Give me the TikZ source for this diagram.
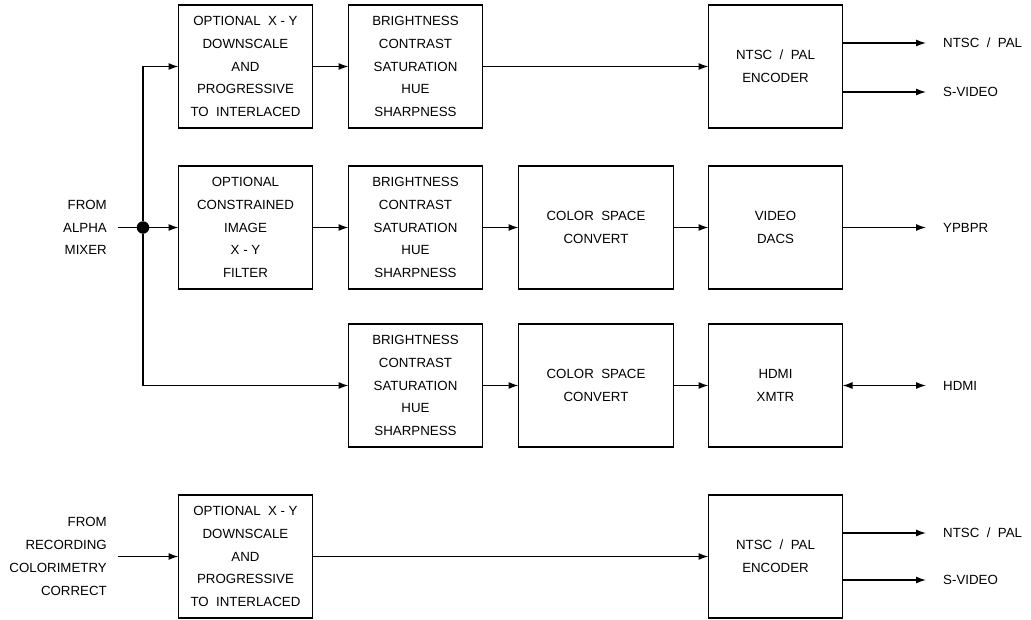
\documentclass[tikz,border=0pt]{standalone}
\usepackage{fontspec}
\setmainfont{Liberation Sans}
\usetikzlibrary{arrows.meta,positioning}

\begin{document}
\begin{tikzpicture}[
    x=1pt, y=-1pt,
    node distance=36pt and 36pt,
    block/.style={draw, line width=1.3pt, align=center, inner sep=0pt, outer sep=0pt, minimum width=134pt, minimum height=123pt, font=\fontsize{13.3}{22.6}\selectfont},
    wideblock/.style={block, minimum width=155pt},
    inlabel/.style={align=right, inner sep=0pt, font=\fontsize{13.3}{22.8}\selectfont},
    outlabel/.style={anchor=west, inner sep=0pt, inner xsep=17pt, text height=9.5pt, text depth=0pt, font=\fontsize{13.3}{16}\selectfont},
    line/.style={-{Latex[length=10pt,width=7pt]}, line width=1.3pt},
    bothline/.style={{Latex[length=10pt,width=7pt]}-{Latex[length=10pt,width=7pt]}, line width=1.3pt},
    wire/.style={line width=1.3pt}
]
\useasboundingbox (0,0) rectangle (1031,619);

\node[block] (down1) at (245.5,66.5) {OPTIONAL\ \ X - Y\\DOWNSCALE\\AND\\PROGRESSIVE\\TO\ \ INTERLACED};
\node[block, right=of down1] (adj1) {BRIGHTNESS\\CONTRAST\\SATURATION\\HUE\\SHARPNESS};
\node[block, below=38pt of down1] (filter) {OPTIONAL\\CONSTRAINED\\IMAGE\\X - Y\\FILTER};
\node[block, right=of filter] (adj2) {BRIGHTNESS\\CONTRAST\\SATURATION\\HUE\\SHARPNESS};
\node[wideblock, right=of adj2] (csc2) {COLOR\ \ SPACE\\CONVERT};
\node[block, right=35pt of csc2] (dacs) {VIDEO\\DACS};
\node[block, above=38pt of dacs] (enc1) {NTSC\ \ /\ \ PAL\\ENCODER};
\node[block, below=35pt of adj2] (adj3) {BRIGHTNESS\\CONTRAST\\SATURATION\\HUE\\SHARPNESS};
\node[wideblock, right=of adj3] (csc3) {COLOR\ \ SPACE\\CONVERT};
\node[block, right=35pt of csc3] (hdmi) {HDMI\\XMTR};
\node[block, below=48pt of hdmi] (enc2) {NTSC\ \ /\ \ PAL\\ENCODER};
\node[block] (down2) at (245.5,556.5) {OPTIONAL\ \ X - Y\\DOWNSCALE\\AND\\PROGRESSIVE\\TO\ \ INTERLACED};

\node[circle, fill, inner sep=0pt, minimum size=12.5pt] (dot) at (143,227.5) {};
\coordinate (alphain) at (118,227.5);
\node[inlabel, left=11pt of alphain] (alpha) {FROM\\ALPHA\\MIXER};
\coordinate (recin) at (118,556.5);
\node[inlabel, left=11pt of recin] (rec) {FROM\\RECORDING\\COLORIMETRY\\CORRECT};

\node[outlabel] (ntsc1) at (926,43) {NTSC\ \ /\ \ PAL};
\node[outlabel] (svid1) at (926,92) {S-VIDEO};
\node[outlabel] (ypbpr) at (926,227.5) {YPBPR};
\node[outlabel] (hdmiout) at (926,385.5) {HDMI};
\node[outlabel] (ntsc2) at (926,533) {NTSC\ \ /\ \ PAL};
\node[outlabel] (svid2) at (926,580) {S-VIDEO};

\draw[wire] (alphain) -- (dot);
\draw[line] (dot) -- (filter);
\draw[line] (dot) |- (down1);
\draw[line] (dot) |- (adj3);
\draw[line] (down1) -- (adj1);
\draw[line] (adj1) -- (enc1);
\draw[line] (filter) -- (adj2);
\draw[line] (adj2) -- (csc2);
\draw[line] (csc2) -- (dacs);
\draw[line] (adj3) -- (csc3);
\draw[line] (csc3) -- (hdmi);
\draw[line] (recin) -- (down2);
\draw[line] (down2) -- (enc2);
\draw[line] (enc1.east |- ntsc1.west) -- (ntsc1.west);
\draw[line] (enc1.east |- svid1.west) -- (svid1.west);
\draw[line] (dacs.east |- ypbpr.west) -- (ypbpr.west);
\draw[bothline] (hdmi.east |- hdmiout.west) -- (hdmiout.west);
\draw[line] (enc2.east |- ntsc2.west) -- (ntsc2.west);
\draw[line] (enc2.east |- svid2.west) -- (svid2.west);
\end{tikzpicture}
\end{document}
